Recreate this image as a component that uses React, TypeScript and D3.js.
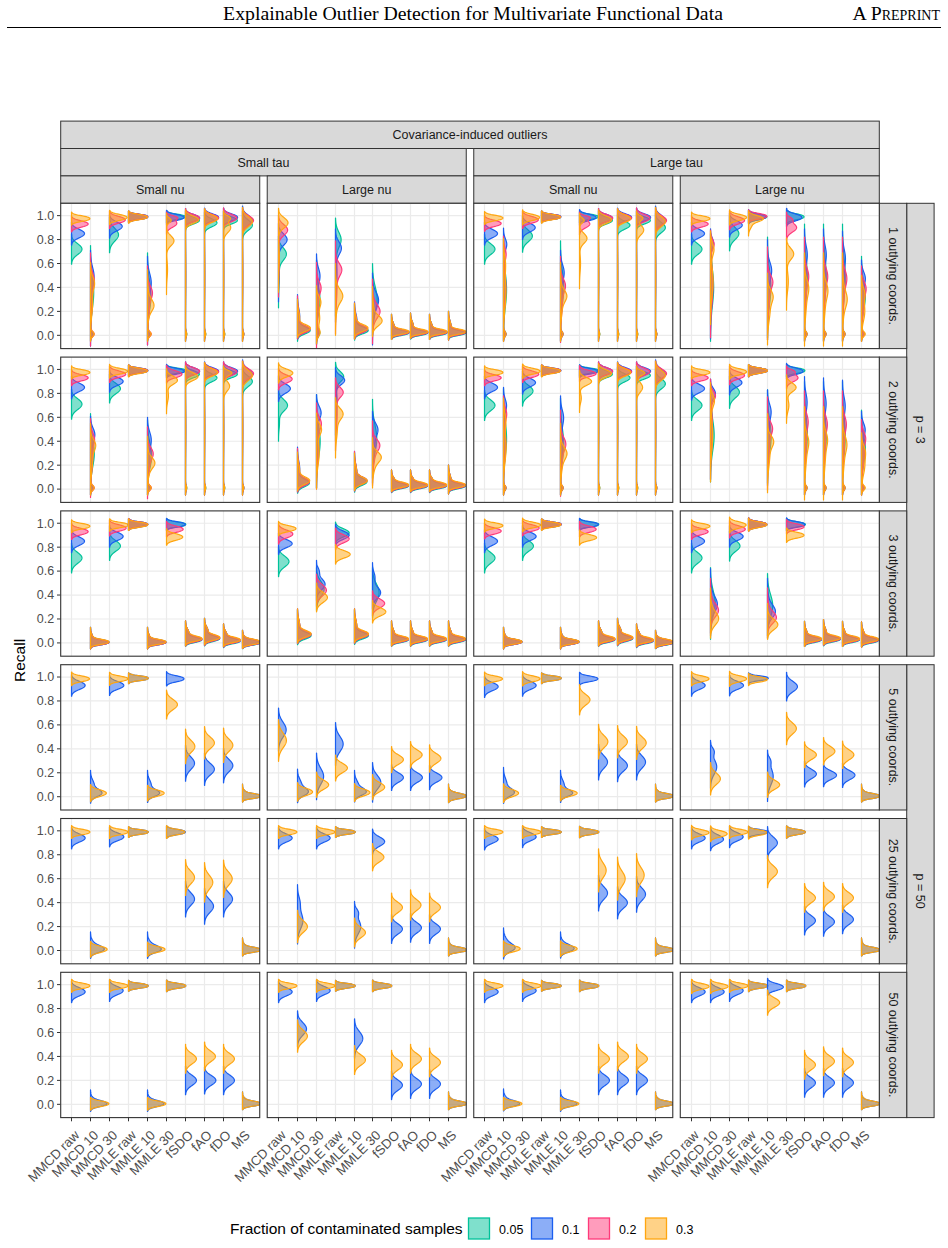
import React from "react";
import * as d3 from "d3";

// ---- categories & labels ----
const methods = ["MMCD raw", "MMCD 10", "MMCD 30", "MMLE raw", "MMLE 10", "MMLE 30", "fSDO", "fAO", "fDO", "MS"];
const fractions = ["0.05", "0.1", "0.2", "0.3"];
const fractionColors = ["#00C29A", "#1A5EF0", "#FF3A7A", "#FFA60F"];
const legendTitle = "Fraction of contaminated samples";
const scenarioLabel = "Covariance-induced outliers";
const tauLevels = ["Small tau", "Large tau"];
const nuLevels = ["Small nu", "Large nu"];
const coordLevels = ["1 outlying coords.", "2 outlying coords.", "3 outlying coords.", "5 outlying coords.", "25 outlying coords.", "50 outlying coords."];
const dimLevels = ["p = 3", "p = 50"];
const recallTicks = [0, 0.2, 0.4, 0.6, 0.8, 1.0];
const p3Fractions = [0, 1, 2, 3];
const p50Fractions = [1, 3];

// Recall distributions. Each entry = density modes [centre, spread, weight, ...] ([centre, spread] = single mode).
// Layout: panel (SmallTau/SmallNu, SmallTau/LargeNu, LargeTau/SmallNu, LargeTau/LargeNu) -> method -> fraction.
const recallCoords1 = [
  [
    [[0.72, 0.042], [0.85, 0.032], [0.93, 0.022], [0.975, 0.018]],
    [[0.36, 0.13, 0.88, 0.01, 0.02, 0.12], [0.5, 0.07, 0.45, 0.3, 0.13, 0.45, 0.01, 0.02, 0.1], [0.46, 0.06, 0.4, 0.3, 0.13, 0.45, 0.01, 0.02, 0.15], [0.44, 0.05, 0.35, 0.28, 0.11, 0.5, 0.01, 0.02, 0.15]],
    [[0.84, 0.05], [0.91, 0.033], [0.965, 0.024], [0.985, 0.02]],
    [[0.99, 0.016], [0.99, 0.016], [0.99, 0.016], [0.988, 0.017]],
    [[0.33, 0.12, 0.88, 0.01, 0.02, 0.12], [0.45, 0.07, 0.45, 0.28, 0.12, 0.45, 0.01, 0.02, 0.1], [0.36, 0.05, 0.4, 0.25, 0.11, 0.45, 0.01, 0.02, 0.15], [0.25, 0.045, 0.45, 0.25, 0.1, 0.4, 0.01, 0.02, 0.15]],
    [[0.99, 0.017], [0.985, 0.02], [0.935, 0.03, 0.7, 0.985, 0.015, 0.3], [0.79, 0.04, 0.65, 0.96, 0.02, 0.2, 0.55, 0.07, 0.15]],
    [[0.96, 0.026, 0.85, 0.5, 0.16, 0.06, 0.01, 0.02, 0.05], [0.98, 0.026, 0.88, 0.5, 0.16, 0.05, 0.01, 0.02, 0.04], [0.98, 0.026, 0.88, 0.5, 0.16, 0.05, 0.01, 0.02, 0.04], [0.965, 0.028, 0.85, 0.5, 0.16, 0.06, 0.01, 0.02, 0.05]],
    [[0.94, 0.03, 0.85, 0.5, 0.16, 0.06, 0.01, 0.02, 0.05], [0.985, 0.026, 0.88, 0.5, 0.16, 0.05, 0.01, 0.02, 0.04], [0.98, 0.026, 0.88, 0.5, 0.16, 0.05, 0.01, 0.02, 0.04], [0.975, 0.028, 0.85, 0.5, 0.16, 0.06, 0.01, 0.02, 0.05]],
    [[0.96, 0.026, 0.85, 0.5, 0.16, 0.06, 0.01, 0.02, 0.05], [0.985, 0.026, 0.88, 0.5, 0.16, 0.05, 0.01, 0.02, 0.04], [0.98, 0.028, 0.88, 0.5, 0.16, 0.05, 0.01, 0.02, 0.04], [0.9, 0.04, 0.6, 0.98, 0.02, 0.25, 0.5, 0.16, 0.06, 0.01, 0.02, 0.05]],
    [[0.92, 0.04, 0.85, 0.5, 0.16, 0.06, 0.01, 0.02, 0.05], [0.96, 0.04, 0.85, 0.5, 0.16, 0.06, 0.01, 0.02, 0.05], [0.96, 0.035, 0.85, 0.5, 0.16, 0.06, 0.01, 0.02, 0.05], [0.95, 0.04, 0.85, 0.5, 0.16, 0.06, 0.01, 0.02, 0.05]],
  ],
  [
    [[0.68, 0.05, 0.85, 0.5, 0.09, 0.15], [0.8, 0.045, 0.85, 0.58, 0.1, 0.15], [0.88, 0.042, 0.85, 0.62, 0.1, 0.15], [0.94, 0.04, 0.85, 0.66, 0.1, 0.15]],
    [[0.04, 0.026, 0.75, 0.13, 0.06, 0.25], [0.05, 0.026, 0.72, 0.16, 0.06, 0.28], [0.05, 0.026, 0.75, 0.15, 0.06, 0.25], [0.06, 0.026, 0.78, 0.15, 0.05, 0.22]],
    [[0.3, 0.11, 0.8, 0.02, 0.03, 0.2], [0.5, 0.06, 0.4, 0.28, 0.12, 0.45, 0.02, 0.03, 0.15], [0.4, 0.05, 0.4, 0.25, 0.12, 0.45, 0.02, 0.03, 0.15], [0.28, 0.045, 0.4, 0.14, 0.06, 0.4, 0.02, 0.03, 0.2]],
    [[0.8, 0.06, 0.7, 0.55, 0.13, 0.3], [0.73, 0.05, 0.6, 0.5, 0.13, 0.4], [0.55, 0.05, 0.6, 0.4, 0.13, 0.4], [0.33, 0.05, 0.6, 0.3, 0.1, 0.4]],
    [[0.04, 0.025, 0.8, 0.11, 0.05, 0.2], [0.05, 0.026, 0.75, 0.13, 0.05, 0.25], [0.05, 0.026, 0.78, 0.12, 0.05, 0.22], [0.06, 0.026, 0.8, 0.12, 0.05, 0.2]],
    [[0.3, 0.1, 1], [0.3, 0.06, 0.6, 0.22, 0.1, 0.4], [0.2, 0.05, 0.6, 0.2, 0.09, 0.4], [0.12, 0.04, 0.8, 0.2, 0.07, 0.2]],
    [[0.02, 0.017, 0.8, 0.07, 0.035, 0.2], [0.025, 0.017, 0.8, 0.07, 0.035, 0.2], [0.025, 0.017, 0.8, 0.07, 0.035, 0.2], [0.03, 0.017, 0.8, 0.07, 0.035, 0.2]],
    [[0.02, 0.017, 0.8, 0.08, 0.035, 0.2], [0.025, 0.017, 0.8, 0.08, 0.035, 0.2], [0.025, 0.017, 0.8, 0.08, 0.035, 0.2], [0.03, 0.017, 0.8, 0.08, 0.035, 0.2]],
    [[0.02, 0.017, 0.8, 0.07, 0.035, 0.2], [0.025, 0.017, 0.8, 0.07, 0.035, 0.2], [0.025, 0.017, 0.8, 0.07, 0.035, 0.2], [0.03, 0.017, 0.8, 0.07, 0.035, 0.2]],
    [[0.02, 0.017, 0.8, 0.08, 0.04, 0.2], [0.025, 0.017, 0.8, 0.08, 0.04, 0.2], [0.025, 0.017, 0.8, 0.08, 0.04, 0.2], [0.03, 0.017, 0.8, 0.08, 0.04, 0.2]],
  ],
  [
    [[0.72, 0.042], [0.85, 0.032], [0.935, 0.022], [0.98, 0.018]],
    [[0.38, 0.14, 0.9, 0.01, 0.02, 0.1], [0.76, 0.045, 0.3, 0.42, 0.14, 0.6, 0.01, 0.02, 0.1], [0.68, 0.05, 0.25, 0.4, 0.13, 0.65, 0.01, 0.02, 0.1], [0.6, 0.07, 0.25, 0.35, 0.13, 0.65, 0.01, 0.02, 0.1]],
    [[0.83, 0.045], [0.9, 0.033], [0.965, 0.024], [0.985, 0.021]],
    [[0.99, 0.016], [0.99, 0.016], [0.99, 0.016], [0.988, 0.017]],
    [[0.4, 0.13, 0.9, 0.01, 0.02, 0.1], [0.53, 0.06, 0.4, 0.33, 0.12, 0.5, 0.01, 0.02, 0.1], [0.42, 0.05, 0.4, 0.3, 0.12, 0.5, 0.01, 0.02, 0.1], [0.33, 0.045, 0.45, 0.28, 0.11, 0.45, 0.01, 0.02, 0.1]],
    [[0.99, 0.017], [0.985, 0.022], [0.93, 0.03, 0.7, 0.985, 0.015, 0.3], [0.81, 0.04, 0.65, 0.96, 0.02, 0.2, 0.6, 0.07, 0.15]],
    [[0.96, 0.026, 0.85, 0.5, 0.16, 0.06, 0.01, 0.02, 0.05], [0.98, 0.026, 0.88, 0.5, 0.16, 0.05, 0.01, 0.02, 0.04], [0.98, 0.026, 0.88, 0.5, 0.16, 0.05, 0.01, 0.02, 0.04], [0.965, 0.028, 0.85, 0.5, 0.16, 0.06, 0.01, 0.02, 0.05]],
    [[0.92, 0.03, 0.85, 0.5, 0.16, 0.06, 0.01, 0.02, 0.05], [0.985, 0.026, 0.88, 0.5, 0.16, 0.05, 0.01, 0.02, 0.04], [0.98, 0.026, 0.88, 0.5, 0.16, 0.05, 0.01, 0.02, 0.04], [0.975, 0.028, 0.85, 0.5, 0.16, 0.06, 0.01, 0.02, 0.05]],
    [[0.96, 0.026, 0.85, 0.5, 0.16, 0.06, 0.01, 0.02, 0.05], [0.985, 0.026, 0.88, 0.5, 0.16, 0.05, 0.01, 0.02, 0.04], [0.98, 0.028, 0.88, 0.5, 0.16, 0.05, 0.01, 0.02, 0.04], [0.88, 0.04, 0.6, 0.98, 0.02, 0.25, 0.5, 0.16, 0.06, 0.01, 0.02, 0.05]],
    [[0.9, 0.04, 0.85, 0.5, 0.16, 0.06, 0.01, 0.02, 0.05], [0.96, 0.04, 0.85, 0.5, 0.16, 0.06, 0.01, 0.02, 0.05], [0.96, 0.035, 0.85, 0.5, 0.16, 0.06, 0.01, 0.02, 0.05], [0.95, 0.04, 0.85, 0.5, 0.16, 0.06, 0.01, 0.02, 0.05]],
  ],
  [
    [[0.72, 0.042], [0.85, 0.032], [0.93, 0.022], [0.975, 0.018]],
    [[0.4, 0.15, 1], [0.77, 0.04, 0.25, 0.42, 0.15, 0.75], [0.76, 0.04, 0.3, 0.4, 0.14, 0.7], [0.72, 0.05, 0.35, 0.45, 0.12, 0.65]],
    [[0.85, 0.048], [0.92, 0.033], [0.96, 0.026], [0.985, 0.021]],
    [[0.99, 0.018], [0.99, 0.02], [0.995, 0.018], [0.975, 0.022, 0.8, 0.92, 0.03, 0.2]],
    [[0.4, 0.14, 1], [0.55, 0.06, 0.4, 0.38, 0.14, 0.6], [0.45, 0.05, 0.4, 0.35, 0.13, 0.6], [0.33, 0.05, 0.45, 0.22, 0.1, 0.55]],
    [[0.99, 0.02], [0.985, 0.025], [0.9, 0.035, 0.8, 0.97, 0.02, 0.2], [0.68, 0.045, 0.7, 0.45, 0.08, 0.3]],
    [[0.48, 0.15, 0.9, 0.01, 0.02, 0.1], [0.68, 0.07, 0.35, 0.42, 0.15, 0.55, 0.01, 0.02, 0.1], [0.5, 0.06, 0.35, 0.4, 0.14, 0.55, 0.01, 0.02, 0.1], [0.4, 0.06, 0.35, 0.3, 0.13, 0.55, 0.01, 0.02, 0.1]],
    [[0.48, 0.15, 0.9, 0.01, 0.02, 0.1], [0.68, 0.07, 0.35, 0.42, 0.15, 0.55, 0.01, 0.02, 0.1], [0.5, 0.06, 0.35, 0.4, 0.14, 0.55, 0.01, 0.02, 0.1], [0.38, 0.06, 0.35, 0.3, 0.13, 0.55, 0.01, 0.02, 0.1]],
    [[0.48, 0.15, 0.9, 0.01, 0.02, 0.1], [0.65, 0.07, 0.35, 0.42, 0.15, 0.55, 0.01, 0.02, 0.1], [0.48, 0.06, 0.35, 0.4, 0.14, 0.55, 0.01, 0.02, 0.1], [0.3, 0.06, 0.35, 0.3, 0.13, 0.55, 0.01, 0.02, 0.1]],
    [[0.33, 0.11, 0.9, 0.01, 0.02, 0.1], [0.48, 0.05, 0.35, 0.3, 0.1, 0.55, 0.01, 0.02, 0.1], [0.4, 0.05, 0.35, 0.28, 0.1, 0.55, 0.01, 0.02, 0.1], [0.35, 0.05, 0.3, 0.2, 0.08, 0.55, 0.01, 0.02, 0.15]],
  ],
];

const recallCoords2 = [
  [
    [[0.71, 0.042], [0.85, 0.032], [0.93, 0.022], [0.975, 0.018]],
    [[0.3, 0.11, 0.88, 0.01, 0.02, 0.12], [0.46, 0.05, 0.4, 0.28, 0.11, 0.5, 0.01, 0.02, 0.1], [0.42, 0.05, 0.35, 0.26, 0.11, 0.5, 0.01, 0.02, 0.15], [0.37, 0.045, 0.4, 0.25, 0.1, 0.45, 0.01, 0.02, 0.15]],
    [[0.84, 0.04], [0.9, 0.03], [0.96, 0.023], [0.985, 0.019]],
    [[0.99, 0.016], [0.99, 0.016], [0.99, 0.016], [0.988, 0.017]],
    [[0.28, 0.1, 0.88, 0.01, 0.02, 0.12], [0.42, 0.06, 0.4, 0.25, 0.1, 0.5, 0.01, 0.02, 0.1], [0.3, 0.045, 0.4, 0.22, 0.1, 0.45, 0.01, 0.02, 0.15], [0.22, 0.04, 0.45, 0.2, 0.08, 0.4, 0.01, 0.02, 0.15]],
    [[0.99, 0.016], [0.985, 0.019], [0.96, 0.025], [0.91, 0.032, 0.8, 0.78, 0.05, 0.2]],
    [[0.96, 0.026, 0.85, 0.5, 0.16, 0.06, 0.01, 0.02, 0.05], [0.985, 0.026, 0.88, 0.5, 0.16, 0.05, 0.01, 0.02, 0.04], [0.985, 0.026, 0.88, 0.5, 0.16, 0.05, 0.01, 0.02, 0.04], [0.94, 0.03, 0.85, 0.5, 0.16, 0.06, 0.01, 0.02, 0.05]],
    [[0.93, 0.03, 0.85, 0.5, 0.16, 0.06, 0.01, 0.02, 0.05], [0.985, 0.026, 0.88, 0.5, 0.16, 0.05, 0.01, 0.02, 0.04], [0.98, 0.026, 0.88, 0.5, 0.16, 0.05, 0.01, 0.02, 0.04], [0.975, 0.028, 0.85, 0.5, 0.16, 0.06, 0.01, 0.02, 0.05]],
    [[0.96, 0.026, 0.85, 0.5, 0.16, 0.06, 0.01, 0.02, 0.05], [0.985, 0.026, 0.88, 0.5, 0.16, 0.05, 0.01, 0.02, 0.04], [0.98, 0.028, 0.88, 0.5, 0.16, 0.05, 0.01, 0.02, 0.04], [0.86, 0.04, 0.5, 0.97, 0.02, 0.35, 0.5, 0.16, 0.06, 0.01, 0.02, 0.05]],
    [[0.9, 0.04, 0.85, 0.5, 0.16, 0.06, 0.01, 0.02, 0.05], [0.96, 0.04, 0.85, 0.5, 0.16, 0.06, 0.01, 0.02, 0.05], [0.965, 0.035, 0.85, 0.5, 0.16, 0.06, 0.01, 0.02, 0.05], [0.95, 0.04, 0.85, 0.5, 0.16, 0.06, 0.01, 0.02, 0.05]],
  ],
  [
    [[0.7, 0.045, 0.9, 0.55, 0.05, 0.1], [0.84, 0.036], [0.92, 0.03], [0.97, 0.028]],
    [[0.05, 0.028, 0.75, 0.15, 0.06, 0.25], [0.06, 0.028, 0.72, 0.17, 0.06, 0.28], [0.06, 0.028, 0.75, 0.16, 0.06, 0.25], [0.07, 0.028, 0.78, 0.16, 0.05, 0.22]],
    [[0.4, 0.13, 1], [0.64, 0.05, 0.45, 0.4, 0.13, 0.55], [0.55, 0.05, 0.45, 0.36, 0.12, 0.55], [0.5, 0.045, 0.45, 0.3, 0.1, 0.55]],
    [[0.94, 0.04, 0.7, 0.75, 0.1, 0.3], [0.91, 0.035, 0.7, 0.7, 0.1, 0.3], [0.81, 0.04, 0.65, 0.62, 0.1, 0.35], [0.63, 0.045, 0.7, 0.5, 0.08, 0.3]],
    [[0.06, 0.027, 0.75, 0.14, 0.055, 0.25], [0.07, 0.027, 0.75, 0.15, 0.055, 0.25], [0.07, 0.027, 0.75, 0.15, 0.055, 0.25], [0.07, 0.027, 0.78, 0.15, 0.05, 0.22]],
    [[0.42, 0.11, 1], [0.5, 0.05, 0.5, 0.35, 0.1, 0.5], [0.37, 0.045, 0.55, 0.3, 0.09, 0.45], [0.27, 0.04, 0.6, 0.22, 0.07, 0.4]],
    [[0.025, 0.018, 0.8, 0.07, 0.03, 0.2], [0.03, 0.018, 0.8, 0.07, 0.03, 0.2], [0.03, 0.018, 0.8, 0.07, 0.03, 0.2], [0.035, 0.018, 0.8, 0.07, 0.03, 0.2]],
    [[0.025, 0.018, 0.8, 0.07, 0.03, 0.2], [0.03, 0.018, 0.8, 0.07, 0.03, 0.2], [0.03, 0.018, 0.8, 0.07, 0.03, 0.2], [0.035, 0.018, 0.8, 0.07, 0.03, 0.2]],
    [[0.025, 0.018, 0.8, 0.07, 0.03, 0.2], [0.03, 0.018, 0.8, 0.07, 0.03, 0.2], [0.03, 0.018, 0.8, 0.07, 0.03, 0.2], [0.035, 0.018, 0.8, 0.07, 0.03, 0.2]],
    [[0.025, 0.018, 0.8, 0.08, 0.04, 0.2], [0.03, 0.018, 0.8, 0.08, 0.04, 0.2], [0.03, 0.018, 0.8, 0.08, 0.04, 0.2], [0.035, 0.018, 0.8, 0.08, 0.04, 0.2]],
  ],
  [
    [[0.7, 0.042], [0.85, 0.032], [0.93, 0.022], [0.975, 0.018]],
    [[0.42, 0.14, 0.9, 0.01, 0.02, 0.1], [0.7, 0.05, 0.3, 0.4, 0.14, 0.6, 0.01, 0.02, 0.1], [0.63, 0.05, 0.3, 0.38, 0.13, 0.6, 0.01, 0.02, 0.1], [0.58, 0.06, 0.25, 0.35, 0.12, 0.65, 0.01, 0.02, 0.1]],
    [[0.82, 0.042], [0.89, 0.032], [0.96, 0.023], [0.985, 0.02]],
    [[0.99, 0.016], [0.99, 0.016], [0.99, 0.016], [0.988, 0.017]],
    [[0.37, 0.13, 0.9, 0.01, 0.02, 0.1], [0.6, 0.06, 0.35, 0.35, 0.13, 0.55, 0.01, 0.02, 0.1], [0.38, 0.05, 0.4, 0.3, 0.12, 0.5, 0.01, 0.02, 0.1], [0.3, 0.045, 0.45, 0.25, 0.1, 0.45, 0.01, 0.02, 0.1]],
    [[0.99, 0.016], [0.985, 0.018], [0.965, 0.022], [0.9, 0.03, 0.85, 0.76, 0.04, 0.15]],
    [[0.96, 0.026, 0.85, 0.5, 0.16, 0.06, 0.01, 0.02, 0.05], [0.985, 0.026, 0.88, 0.5, 0.16, 0.05, 0.01, 0.02, 0.04], [0.985, 0.026, 0.88, 0.5, 0.16, 0.05, 0.01, 0.02, 0.04], [0.965, 0.028, 0.85, 0.5, 0.16, 0.06, 0.01, 0.02, 0.05]],
    [[0.93, 0.03, 0.85, 0.5, 0.16, 0.06, 0.01, 0.02, 0.05], [0.985, 0.026, 0.88, 0.5, 0.16, 0.05, 0.01, 0.02, 0.04], [0.98, 0.026, 0.88, 0.5, 0.16, 0.05, 0.01, 0.02, 0.04], [0.975, 0.028, 0.85, 0.5, 0.16, 0.06, 0.01, 0.02, 0.05]],
    [[0.95, 0.026, 0.85, 0.5, 0.16, 0.06, 0.01, 0.02, 0.05], [0.985, 0.026, 0.88, 0.5, 0.16, 0.05, 0.01, 0.02, 0.04], [0.98, 0.028, 0.88, 0.5, 0.16, 0.05, 0.01, 0.02, 0.04], [0.85, 0.04, 0.5, 0.97, 0.02, 0.35, 0.5, 0.16, 0.06, 0.01, 0.02, 0.05]],
    [[0.88, 0.04, 0.85, 0.5, 0.16, 0.06, 0.01, 0.02, 0.05], [0.96, 0.04, 0.85, 0.5, 0.16, 0.06, 0.01, 0.02, 0.05], [0.965, 0.035, 0.85, 0.5, 0.16, 0.06, 0.01, 0.02, 0.05], [0.95, 0.04, 0.85, 0.5, 0.16, 0.06, 0.01, 0.02, 0.05]],
  ],
  [
    [[0.7, 0.042], [0.84, 0.032], [0.93, 0.022], [0.975, 0.018]],
    [[0.45, 0.13, 1], [0.8, 0.04, 0.4, 0.5, 0.14, 0.6], [0.78, 0.04, 0.4, 0.5, 0.14, 0.6], [0.74, 0.05, 0.4, 0.45, 0.13, 0.6]],
    [[0.81, 0.045], [0.89, 0.034], [0.95, 0.026], [0.98, 0.021]],
    [[0.99, 0.017], [0.99, 0.017], [0.99, 0.017], [0.99, 0.017]],
    [[0.44, 0.13, 1], [0.65, 0.06, 0.4, 0.42, 0.13, 0.6], [0.51, 0.05, 0.4, 0.38, 0.13, 0.6], [0.4, 0.045, 0.45, 0.3, 0.11, 0.55]],
    [[0.99, 0.018], [0.985, 0.022], [0.93, 0.03, 0.8, 0.985, 0.015, 0.2], [0.85, 0.035, 0.75, 0.7, 0.05, 0.25]],
    [[0.45, 0.15, 0.9, 0.01, 0.02, 0.1], [0.73, 0.07, 0.35, 0.42, 0.15, 0.55, 0.01, 0.02, 0.1], [0.57, 0.06, 0.35, 0.4, 0.14, 0.55, 0.01, 0.02, 0.1], [0.4, 0.06, 0.35, 0.3, 0.13, 0.55, 0.01, 0.02, 0.1]],
    [[0.45, 0.15, 0.9, 0.01, 0.02, 0.1], [0.72, 0.07, 0.35, 0.42, 0.15, 0.55, 0.01, 0.02, 0.1], [0.55, 0.06, 0.35, 0.4, 0.14, 0.55, 0.01, 0.02, 0.1], [0.42, 0.06, 0.35, 0.3, 0.13, 0.55, 0.01, 0.02, 0.1]],
    [[0.45, 0.15, 0.9, 0.01, 0.02, 0.1], [0.7, 0.07, 0.35, 0.42, 0.15, 0.55, 0.01, 0.02, 0.1], [0.55, 0.06, 0.35, 0.4, 0.14, 0.55, 0.01, 0.02, 0.1], [0.38, 0.06, 0.35, 0.3, 0.13, 0.55, 0.01, 0.02, 0.1]],
    [[0.33, 0.11, 0.9, 0.01, 0.02, 0.1], [0.5, 0.05, 0.35, 0.3, 0.1, 0.55, 0.01, 0.02, 0.1], [0.43, 0.05, 0.35, 0.28, 0.1, 0.55, 0.01, 0.02, 0.1], [0.32, 0.05, 0.3, 0.2, 0.08, 0.55, 0.01, 0.02, 0.15]],
  ],
];

const recallCoords3 = [
  [
    [[0.71, 0.042], [0.85, 0.032], [0.93, 0.022], [0.975, 0.018]],
    [[0.005, 0.016, 0.85, 0.04, 0.03, 0.15], [0.005, 0.016, 0.85, 0.04, 0.03, 0.15], [0.005, 0.016, 0.85, 0.04, 0.03, 0.15], [0.008, 0.016, 0.85, 0.04, 0.03, 0.15]],
    [[0.81, 0.04], [0.89, 0.03], [0.96, 0.022], [0.985, 0.017]],
    [[0.99, 0.016], [0.99, 0.016], [0.99, 0.016], [0.988, 0.016]],
    [[0.005, 0.016, 0.85, 0.04, 0.03, 0.15], [0.005, 0.016, 0.85, 0.04, 0.03, 0.15], [0.005, 0.016, 0.85, 0.04, 0.03, 0.15], [0.008, 0.016, 0.85, 0.04, 0.03, 0.15]],
    [[0.99, 0.016], [0.99, 0.017], [0.95, 0.022], [0.885, 0.023]],
    [[0.025, 0.018, 0.75, 0.08, 0.035, 0.25], [0.03, 0.018, 0.75, 0.08, 0.035, 0.25], [0.03, 0.018, 0.75, 0.08, 0.035, 0.25], [0.035, 0.018, 0.75, 0.08, 0.035, 0.25]],
    [[0.035, 0.02, 0.75, 0.1, 0.035, 0.25], [0.04, 0.02, 0.75, 0.1, 0.035, 0.25], [0.04, 0.02, 0.75, 0.1, 0.035, 0.25], [0.045, 0.02, 0.75, 0.1, 0.035, 0.25]],
    [[0.015, 0.018, 0.8, 0.07, 0.03, 0.2], [0.02, 0.018, 0.8, 0.07, 0.03, 0.2], [0.02, 0.018, 0.8, 0.07, 0.03, 0.2], [0.025, 0.018, 0.8, 0.07, 0.03, 0.2]],
    [[0.003, 0.017, 0.85, 0.03, 0.025, 0.15], [0.005, 0.017, 0.85, 0.03, 0.025, 0.15], [0.005, 0.017, 0.85, 0.03, 0.025, 0.15], [0.008, 0.017, 0.85, 0.03, 0.025, 0.15]],
  ],
  [
    [[0.68, 0.042], [0.83, 0.03], [0.91, 0.028], [0.955, 0.02]],
    [[0.06, 0.025, 0.8, 0.14, 0.045, 0.2], [0.07, 0.025, 0.8, 0.15, 0.045, 0.2], [0.07, 0.025, 0.8, 0.15, 0.045, 0.2], [0.075, 0.025, 0.8, 0.15, 0.045, 0.2]],
    [[0.45, 0.06], [0.49, 0.045, 0.85, 0.6, 0.03, 0.15], [0.44, 0.045], [0.38, 0.04]],
    [[0.92, 0.03], [0.9, 0.03], [0.87, 0.03], [0.74, 0.027]],
    [[0.06, 0.024, 0.8, 0.14, 0.045, 0.2], [0.07, 0.024, 0.8, 0.15, 0.045, 0.2], [0.07, 0.024, 0.8, 0.15, 0.045, 0.2], [0.075, 0.024, 0.8, 0.15, 0.045, 0.2]],
    [[0.42, 0.07], [0.42, 0.045, 0.8, 0.55, 0.04, 0.2], [0.33, 0.035], [0.26, 0.031]],
    [[0.025, 0.018, 0.8, 0.08, 0.035, 0.2], [0.03, 0.018, 0.8, 0.08, 0.035, 0.2], [0.03, 0.018, 0.8, 0.08, 0.035, 0.2], [0.035, 0.018, 0.8, 0.08, 0.035, 0.2]],
    [[0.025, 0.018, 0.8, 0.08, 0.035, 0.2], [0.03, 0.018, 0.8, 0.08, 0.035, 0.2], [0.03, 0.018, 0.8, 0.08, 0.035, 0.2], [0.035, 0.018, 0.8, 0.08, 0.035, 0.2]],
    [[0.025, 0.018, 0.8, 0.08, 0.035, 0.2], [0.03, 0.018, 0.8, 0.08, 0.035, 0.2], [0.03, 0.018, 0.8, 0.08, 0.035, 0.2], [0.035, 0.018, 0.8, 0.08, 0.035, 0.2]],
    [[0.025, 0.018, 0.8, 0.08, 0.035, 0.2], [0.03, 0.018, 0.8, 0.08, 0.035, 0.2], [0.03, 0.018, 0.8, 0.08, 0.035, 0.2], [0.035, 0.018, 0.8, 0.08, 0.035, 0.2]],
  ],
  [
    [[0.71, 0.042], [0.85, 0.032], [0.935, 0.022], [0.98, 0.018]],
    [[0.008, 0.016, 0.85, 0.04, 0.03, 0.15], [0.008, 0.016, 0.85, 0.04, 0.03, 0.15], [0.008, 0.016, 0.85, 0.04, 0.03, 0.15], [0.01, 0.016, 0.85, 0.04, 0.03, 0.15]],
    [[0.81, 0.04], [0.89, 0.03], [0.96, 0.022], [0.985, 0.019]],
    [[0.99, 0.015], [0.99, 0.015], [0.99, 0.015], [0.988, 0.016]],
    [[0.008, 0.016, 0.85, 0.04, 0.03, 0.15], [0.008, 0.016, 0.85, 0.04, 0.03, 0.15], [0.008, 0.016, 0.85, 0.04, 0.03, 0.15], [0.01, 0.016, 0.85, 0.04, 0.03, 0.15]],
    [[0.99, 0.016], [0.99, 0.017], [0.95, 0.022], [0.88, 0.021]],
    [[0.025, 0.018, 0.75, 0.08, 0.035, 0.25], [0.03, 0.018, 0.75, 0.08, 0.035, 0.25], [0.03, 0.018, 0.75, 0.08, 0.035, 0.25], [0.035, 0.018, 0.75, 0.08, 0.035, 0.25]],
    [[0.035, 0.02, 0.75, 0.1, 0.035, 0.25], [0.04, 0.02, 0.75, 0.1, 0.035, 0.25], [0.04, 0.02, 0.75, 0.1, 0.035, 0.25], [0.045, 0.02, 0.75, 0.1, 0.035, 0.25]],
    [[0.015, 0.018, 0.8, 0.07, 0.03, 0.2], [0.02, 0.018, 0.8, 0.07, 0.03, 0.2], [0.02, 0.018, 0.8, 0.07, 0.03, 0.2], [0.025, 0.018, 0.8, 0.07, 0.03, 0.2]],
    [[0.003, 0.017, 0.85, 0.03, 0.025, 0.15], [0.005, 0.017, 0.85, 0.03, 0.025, 0.15], [0.005, 0.017, 0.85, 0.03, 0.025, 0.15], [0.008, 0.017, 0.85, 0.03, 0.025, 0.15]],
  ],
  [
    [[0.71, 0.042], [0.85, 0.032], [0.93, 0.022], [0.975, 0.018]],
    [[0.33, 0.1, 1], [0.32, 0.06, 0.7, 0.35, 0.09, 0.3], [0.27, 0.05, 0.7, 0.3, 0.08, 0.3], [0.2, 0.05, 0.75, 0.25, 0.07, 0.25]],
    [[0.81, 0.042], [0.89, 0.03], [0.95, 0.024], [0.985, 0.022]],
    [[0.99, 0.018], [0.99, 0.018], [0.99, 0.018], [0.988, 0.018]],
    [[0.31, 0.09, 1], [0.26, 0.05, 0.7, 0.3, 0.08, 0.3], [0.21, 0.045, 0.75, 0.25, 0.07, 0.25], [0.15, 0.04, 0.8, 0.18, 0.05, 0.2]],
    [[0.99, 0.017], [0.99, 0.018], [0.97, 0.02], [0.9, 0.02]],
    [[0.025, 0.018, 0.8, 0.075, 0.035, 0.2], [0.03, 0.018, 0.8, 0.075, 0.035, 0.2], [0.03, 0.018, 0.8, 0.075, 0.035, 0.2], [0.035, 0.018, 0.8, 0.075, 0.035, 0.2]],
    [[0.03, 0.018, 0.8, 0.09, 0.035, 0.2], [0.035, 0.018, 0.8, 0.09, 0.035, 0.2], [0.035, 0.018, 0.8, 0.09, 0.035, 0.2], [0.04, 0.018, 0.8, 0.09, 0.035, 0.2]],
    [[0.025, 0.018, 0.8, 0.075, 0.035, 0.2], [0.03, 0.018, 0.8, 0.075, 0.035, 0.2], [0.03, 0.018, 0.8, 0.075, 0.035, 0.2], [0.035, 0.018, 0.8, 0.075, 0.035, 0.2]],
    [[0.02, 0.018, 0.8, 0.07, 0.035, 0.2], [0.025, 0.018, 0.8, 0.07, 0.035, 0.2], [0.025, 0.018, 0.8, 0.07, 0.035, 0.2], [0.03, 0.018, 0.8, 0.07, 0.035, 0.2]],
  ],
];

// p = 50 rows: [fraction 0.1, fraction 0.3] per method
const recallCoords5 = [
  [
    [[0.93, 0.03], [0.985, 0.019]],
    [[0.03, 0.028, 0.7, 0.1, 0.04, 0.3], [0.03, 0.024]],
    [[0.93, 0.028], [0.985, 0.018]],
    [[0.99, 0.015], [0.99, 0.015]],
    [[0.03, 0.026, 0.7, 0.1, 0.04, 0.3], [0.03, 0.022]],
    [[0.985, 0.02], [0.77, 0.04]],
    [[0.28, 0.05], [0.42, 0.048]],
    [[0.23, 0.045], [0.45, 0.045]],
    [[0.26, 0.048], [0.43, 0.048]],
    [[0.005, 0.015, 0.85, 0.03, 0.025, 0.15], [0.005, 0.015, 0.85, 0.03, 0.025, 0.15]],
  ],
  [
    [[0.56, 0.06], [0.47, 0.058]],
    [[0.04, 0.03, 0.7, 0.11, 0.04, 0.3], [0.04, 0.026]],
    [[0.17, 0.065], [0.1, 0.035]],
    [[0.44, 0.06], [0.24, 0.036]],
    [[0.04, 0.028, 0.7, 0.1, 0.04, 0.3], [0.035, 0.025]],
    [[0.12, 0.055], [0.08, 0.035]],
    [[0.16, 0.036], [0.31, 0.036]],
    [[0.16, 0.036], [0.35, 0.037]],
    [[0.16, 0.034], [0.32, 0.038]],
    [[0.005, 0.018, 0.85, 0.03, 0.025, 0.15], [0.005, 0.018, 0.85, 0.03, 0.025, 0.15]],
  ],
  [
    [[0.92, 0.03], [0.985, 0.019]],
    [[0.035, 0.03, 0.7, 0.11, 0.045, 0.3], [0.03, 0.026]],
    [[0.93, 0.03], [0.985, 0.02]],
    [[0.99, 0.015], [0.99, 0.015]],
    [[0.03, 0.026, 0.7, 0.1, 0.04, 0.3], [0.03, 0.022]],
    [[0.985, 0.018], [0.81, 0.042]],
    [[0.29, 0.05], [0.46, 0.048]],
    [[0.26, 0.045], [0.46, 0.045]],
    [[0.29, 0.05], [0.45, 0.046]],
    [[0.005, 0.016, 0.85, 0.03, 0.025, 0.15], [0.005, 0.016, 0.85, 0.03, 0.025, 0.15]],
  ],
  [
    [[0.93, 0.03], [0.985, 0.02]],
    [[0.25, 0.06, 0.8, 0.38, 0.03, 0.2], [0.15, 0.045]],
    [[0.93, 0.029], [0.985, 0.021]],
    [[0.99, 0.015], [0.98, 0.017]],
    [[0.17, 0.07, 0.85, 0.3, 0.03, 0.15], [0.1, 0.035]],
    [[0.92, 0.04], [0.57, 0.045]],
    [[0.19, 0.036], [0.35, 0.036]],
    [[0.18, 0.032], [0.38, 0.038]],
    [[0.18, 0.034], [0.35, 0.038]],
    [[0.005, 0.016, 0.85, 0.03, 0.025, 0.15], [0.005, 0.016, 0.85, 0.03, 0.025, 0.15]],
  ],
];

const recallCoords25 = [
  [
    [[0.94, 0.03], [0.99, 0.018]],
    [[0.01, 0.025, 0.75, 0.05, 0.035, 0.25], [0.01, 0.022]],
    [[0.95, 0.028], [0.99, 0.018]],
    [[0.99, 0.015], [0.99, 0.015]],
    [[0.01, 0.025, 0.75, 0.05, 0.035, 0.25], [0.01, 0.02]],
    [[0.99, 0.017], [0.99, 0.018]],
    [[0.43, 0.05], [0.61, 0.05]],
    [[0.37, 0.05], [0.57, 0.055]],
    [[0.43, 0.05], [0.6, 0.052]],
    [[0.005, 0.016, 0.85, 0.03, 0.025, 0.15], [0.005, 0.016, 0.85, 0.03, 0.025, 0.15]],
  ],
  [
    [[0.94, 0.03], [0.99, 0.018]],
    [[0.25, 0.065, 0.75, 0.4, 0.05, 0.25], [0.2, 0.045]],
    [[0.94, 0.03], [0.99, 0.018]],
    [[0.99, 0.015], [0.99, 0.015]],
    [[0.2, 0.06, 0.8, 0.32, 0.03, 0.2], [0.15, 0.04]],
    [[0.91, 0.035], [0.78, 0.038]],
    [[0.18, 0.04], [0.36, 0.04]],
    [[0.19, 0.04], [0.38, 0.042]],
    [[0.18, 0.04], [0.36, 0.04]],
    [[0.005, 0.016, 0.85, 0.03, 0.025, 0.15], [0.005, 0.016, 0.85, 0.03, 0.025, 0.15]],
  ],
  [
    [[0.93, 0.03], [0.99, 0.018]],
    [[0.02, 0.03, 0.7, 0.07, 0.04, 0.3], [0.015, 0.022]],
    [[0.95, 0.03], [0.99, 0.018]],
    [[0.99, 0.015], [0.99, 0.015]],
    [[0.015, 0.026, 0.75, 0.05, 0.035, 0.25], [0.015, 0.022]],
    [[0.99, 0.016], [0.99, 0.016]],
    [[0.48, 0.05], [0.67, 0.06]],
    [[0.4, 0.045], [0.6, 0.06]],
    [[0.47, 0.05], [0.63, 0.06]],
    [[0.005, 0.016, 0.85, 0.03, 0.025, 0.15], [0.005, 0.016, 0.85, 0.03, 0.025, 0.15]],
  ],
  [
    [[0.94, 0.03], [0.985, 0.02]],
    [[0.93, 0.032], [0.975, 0.022]],
    [[0.95, 0.03], [0.99, 0.018]],
    [[0.99, 0.016], [0.985, 0.018]],
    [[0.9, 0.045], [0.66, 0.045]],
    [[0.99, 0.017], [0.99, 0.017]],
    [[0.25, 0.04], [0.44, 0.04]],
    [[0.24, 0.04], [0.45, 0.04]],
    [[0.26, 0.04], [0.44, 0.04]],
    [[0.005, 0.016, 0.85, 0.03, 0.025, 0.15], [0.005, 0.016, 0.85, 0.03, 0.025, 0.15]],
  ],
];

const recallCoords50 = [
  [
    [[0.94, 0.03], [0.99, 0.018]],
    [[0.005, 0.02, 0.8, 0.03, 0.03, 0.2], [0.005, 0.018]],
    [[0.95, 0.03], [0.99, 0.018]],
    [[0.99, 0.015], [0.99, 0.015]],
    [[0.005, 0.02, 0.8, 0.03, 0.03, 0.2], [0.005, 0.018]],
    [[0.99, 0.016], [0.99, 0.016]],
    [[0.2, 0.04], [0.38, 0.04]],
    [[0.2, 0.038], [0.4, 0.04]],
    [[0.2, 0.04], [0.38, 0.04]],
    [[0.005, 0.016, 0.85, 0.03, 0.025, 0.15], [0.005, 0.016, 0.85, 0.03, 0.025, 0.15]],
  ],
  [
    [[0.94, 0.03], [0.99, 0.018]],
    [[0.63, 0.05], [0.57, 0.045]],
    [[0.95, 0.03], [0.99, 0.018]],
    [[0.99, 0.015], [0.99, 0.015]],
    [[0.55, 0.055], [0.37, 0.04]],
    [[0.99, 0.016], [0.99, 0.016]],
    [[0.16, 0.04], [0.33, 0.04]],
    [[0.17, 0.04], [0.38, 0.04]],
    [[0.17, 0.04], [0.35, 0.04]],
    [[0.005, 0.016, 0.85, 0.03, 0.025, 0.15], [0.005, 0.016, 0.85, 0.03, 0.025, 0.15]],
  ],
  [
    [[0.94, 0.03], [0.99, 0.018]],
    [[0.005, 0.02, 0.8, 0.04, 0.03, 0.2], [0.005, 0.018]],
    [[0.95, 0.03], [0.99, 0.018]],
    [[0.99, 0.015], [0.99, 0.015]],
    [[0.005, 0.02, 0.8, 0.03, 0.03, 0.2], [0.005, 0.018]],
    [[0.99, 0.016], [0.99, 0.016]],
    [[0.2, 0.04], [0.38, 0.04]],
    [[0.2, 0.04], [0.4, 0.04]],
    [[0.2, 0.04], [0.38, 0.04]],
    [[0.005, 0.016, 0.85, 0.03, 0.025, 0.15], [0.005, 0.016, 0.85, 0.03, 0.025, 0.15]],
  ],
  [
    [[0.94, 0.03], [0.985, 0.02]],
    [[0.94, 0.03], [0.985, 0.02]],
    [[0.95, 0.03], [0.99, 0.018]],
    [[0.99, 0.016], [0.99, 0.016]],
    [[0.98, 0.024], [0.85, 0.035]],
    [[0.99, 0.016], [0.99, 0.016]],
    [[0.18, 0.04], [0.33, 0.04]],
    [[0.18, 0.04], [0.36, 0.04]],
    [[0.18, 0.04], [0.35, 0.04]],
    [[0.005, 0.016, 0.85, 0.03, 0.025, 0.15], [0.005, 0.016, 0.85, 0.03, 0.025, 0.15]],
  ],
];

const facetRows = [
  { label: coordLevels[0], dim: 0, panels: recallCoords1, shown: p3Fractions },
  { label: coordLevels[1], dim: 0, panels: recallCoords2, shown: p3Fractions },
  { label: coordLevels[2], dim: 0, panels: recallCoords3, shown: p3Fractions },
  { label: coordLevels[3], dim: 1, panels: recallCoords5, shown: p50Fractions },
  { label: coordLevels[4], dim: 1, panels: recallCoords25, shown: p50Fractions },
  { label: coordLevels[5], dim: 1, panels: recallCoords50, shown: p50Fractions },
];

// ---- geometry ----
const plotLeft = 60.7;
const plotRight = 879.3;
const colGap = 7.5;
const panelW = (plotRight - plotLeft - 3 * colGap) / 4;
const firstRowTop = 203.3;
const rowH = 145.3;
const rowStep = 153.8;
const stripH = 27.4;
const sideStripW = 27.4;
const yDomain = [-0.111, 1.103];
const maxHalfWidth = 22;

const sans = "'Liberation Sans', Arial, Helvetica, sans-serif";
const serif = "'Liberation Serif', 'Times New Roman', serif";
const stripFill = "#D9D9D9";
const stripStroke = "#333333";
const gridColor = "#EBEBEB";

function modesOf(spec: number[]): number[][] {
  if (spec.length === 2) return [[spec[0], spec[1], 1]];
  const out: number[][] = [];
  for (let i = 0; i + 2 < spec.length; i += 3) out.push([spec[i], spec[i + 1], spec[i + 2]]);
  return out;
}

function densityCurve(spec: number[]): [number, number][] {
  const modes = modesOf(spec);
  const total = d3.sum(modes, (m) => m[2]);
  const lo = d3.min(modes, (m) => m[0] - 3 * m[1]) as number;
  const hi = d3.max(modes, (m) => m[0] + 3 * m[1]) as number;
  const n = Math.max(40, Math.ceil((hi - lo) / 0.003));
  return d3.range(n + 1).map((i) => {
    const v = lo + ((hi - lo) * i) / n;
    const dens = d3.sum(modes, ([c, s, w]) => ((w / total) * Math.exp(-0.5 * ((v - c) / s) ** 2)) / (s * Math.sqrt(2 * Math.PI)));
    return [v, dens];
  });
}

export default function App() {
  const cols = [0, 1, 2, 3];
  const panelX = (c: number) => plotLeft + c * (panelW + colGap);
  const rowTop = (r: number) => firstRowTop + r * rowStep;
  const widthOf = (dens: number) => maxHalfWidth * Math.tanh((1.2 * dens) / maxHalfWidth);
  // half-violin baselines sit on pixel centres so the thin outlines stay crisp
  const snap = (v: number) => Math.round(v - 0.5) + 0.5;

  const plotBottom = rowTop(5) + rowH;

  return (
    <svg
      width={948}
      height={1248}
      viewBox="0 0 948 1248"
      style={{ position: "absolute", left: 0, top: 0, background: "#fff" }}
      fontFamily={sans}
    >
      <rect x={0} y={0} width={948} height={1248} fill="#fff" />
      {/* running header */}
      <text x={473} y={19.5} textAnchor="middle" fontFamily={serif} fontSize={19.8} fill="#000">
        Explainable Outlier Detection for Multivariate Functional Data
      </text>
      <text x={940} y={19.5} textAnchor="end" fontFamily={serif} fontSize={19.8} fill="#000" style={{ fontVariant: "small-caps" }}>
        A Preprint
      </text>
      <line x1={7} x2={941} y1={27.5} y2={27.5} stroke="#000" strokeWidth={1} />

      {/* top strips */}
      <rect x={plotLeft} y={firstRowTop - 3 * stripH} width={plotRight - plotLeft} height={stripH} fill={stripFill} stroke={stripStroke} strokeWidth={1} />
      <text x={(plotLeft + plotRight) / 2} y={firstRowTop - 2.5 * stripH} dy="0.35em" textAnchor="middle" fontSize={12.5} fill="#1A1A1A">
        {scenarioLabel}
      </text>
      {tauLevels.map((t, ti) => {
        const x0 = panelX(ti * 2);
        const x1 = panelX(ti * 2 + 1) + panelW;
        return (
          <g key={t}>
            <rect x={x0} y={firstRowTop - 2 * stripH} width={x1 - x0} height={stripH} fill={stripFill} stroke={stripStroke} strokeWidth={1} />
            <text x={(x0 + x1) / 2} y={firstRowTop - 1.5 * stripH} dy="0.35em" textAnchor="middle" fontSize={12.5} fill="#1A1A1A">
              {t}
            </text>
          </g>
        );
      })}
      {cols.map((c) => (
        <g key={"nu" + c}>
          <rect x={panelX(c)} y={firstRowTop - stripH} width={panelW} height={stripH} fill={stripFill} stroke={stripStroke} strokeWidth={1} />
          <text x={panelX(c) + panelW / 2} y={firstRowTop - 0.5 * stripH} dy="0.35em" textAnchor="middle" fontSize={12.5} fill="#1A1A1A">
            {nuLevels[c % 2]}
          </text>
        </g>
      ))}

      {/* dimension strips */}
      {dimLevels.map((lab, di) => {
        const y0 = rowTop(di * 3);
        const y1 = rowTop(di * 3 + 2) + rowH;
        const x0 = plotRight + sideStripW;
        return (
          <g key={lab}>
            <rect x={x0} y={y0} width={sideStripW} height={y1 - y0} fill={stripFill} stroke={stripStroke} strokeWidth={1} />
            <text transform={`translate(${x0 + sideStripW / 2},${(y0 + y1) / 2}) rotate(90)`} dy="0.35em" textAnchor="middle" fontSize={12.5} fill="#1A1A1A">
              {lab}
            </text>
          </g>
        );
      })}

      <defs>
        {facetRows.map((row, r) =>
          cols.map((c) => (
            <clipPath id={`clip-${r}-${c}`} key={`clip-${r}-${c}`}>
              <rect x={panelX(c)} y={rowTop(r)} width={panelW} height={rowH} />
            </clipPath>
          ))
        )}
      </defs>

      {facetRows.map((row, r) => {
        const top = rowTop(r);
        const y = d3.scaleLinear().domain(yDomain).range([top + rowH, top]);
        return (
          <g key={row.label}>
            {/* side strip */}
            <rect x={plotRight} y={top} width={sideStripW} height={rowH} fill={stripFill} stroke={stripStroke} strokeWidth={1} />
            <text transform={`translate(${plotRight + sideStripW / 2},${top + rowH / 2}) rotate(90)`} dy="0.35em" textAnchor="middle" fontSize={12.5} fill="#1A1A1A">
              {row.label}
            </text>

            {/* y axis */}
            {recallTicks.map((t) => (
              <g key={t}>
                <line x1={plotLeft - 3.7} x2={plotLeft} y1={y(t)} y2={y(t)} stroke="#333" strokeWidth={1} />
                <text x={plotLeft - 6.5} y={y(t)} dy="0.35em" textAnchor="end" fontSize={12.5} fill="#4D4D4D">
                  {d3.format(".1f")(t)}
                </text>
              </g>
            ))}

            {cols.map((c) => {
              const left = panelX(c);
              const x = d3.scaleLinear().domain([0.42, 10.92]).range([left, left + panelW]);
              const step = x(2) - x(1);
              const area = d3
                .area<[number, number]>()
                .y((p) => y(p[0]))
                .x0(0)
                .x1((p) => widthOf(p[1]) * (step / 18.95));
              const panelSpecs = row.panels[c];
              return (
                <g key={c}>
                  <rect x={left} y={top} width={panelW} height={rowH} fill="#fff" />
                  {recallTicks.map((t) => (
                    <line key={"h" + t} x1={left} x2={left + panelW} y1={y(t)} y2={y(t)} stroke={gridColor} strokeWidth={1.2} />
                  ))}
                  {methods.map((m, mi) => (
                    <line key={"v" + m} x1={snap(x(mi + 1))} x2={snap(x(mi + 1))} y1={top} y2={top + rowH} stroke={gridColor} strokeWidth={1.2} />
                  ))}
                  <g clipPath={`url(#clip-${r}-${c})`}>
                    {methods.map((m, mi) => (
                      <g key={m} transform={`translate(${snap(x(mi + 1))},0)`}>
                        {row.shown.map((fi, k) => {
                          const spec = panelSpecs[mi][k];
                          const curve = densityCurve(spec);
                          return (
                            <path
                              key={fi}
                              d={area(curve) || ""}
                              fill={fractionColors[fi]}
                              fillOpacity={0.5}
                              stroke={fractionColors[fi]}
                              strokeWidth={1.2}
                              strokeLinejoin="round"
                            />
                          );
                        })}
                      </g>
                    ))}
                  </g>
                  <rect x={left} y={top} width={panelW} height={rowH} fill="none" stroke="#333" strokeWidth={1.1} />
                </g>
              );
            })}
          </g>
        );
      })}

      {/* x axis */}
      {cols.map((c) => {
        const left = panelX(c);
        const x = d3.scaleLinear().domain([0.42, 10.92]).range([left, left + panelW]);
        return (
          <g key={"xa" + c}>
            {methods.map((m, mi) => (
              <g key={m}>
                <line x1={snap(x(mi + 1))} x2={snap(x(mi + 1))} y1={plotBottom} y2={plotBottom + 3.7} stroke="#333" strokeWidth={1} />
                <text transform={`translate(${x(mi + 1) + 8.5},${plotBottom + 18.5}) rotate(-45)`} textAnchor="end" fontSize={13.2} fill="#4D4D4D">
                  {m}
                </text>
              </g>
            ))}
          </g>
        );
      })}

      {/* y title */}
      <text transform={`translate(20,${(firstRowTop + plotBottom) / 2}) rotate(-90)`} textAnchor="middle" dy="0.35em" fontSize={15.5} fill="#000">
        Recall
      </text>

      {/* legend */}
      <text x={230} y={1234} fontSize={15.5} fill="#000">
        {legendTitle}
      </text>
      {fractions.map((f, i) => {
        const kx = [468.5, 531.5, 588.5, 645.5][i];
        return (
          <g key={f}>
            <rect x={kx} y={1218} width={21} height={21} fill={fractionColors[i]} fillOpacity={0.5} stroke={fractionColors[i]} strokeWidth={1.3} />
            <text x={kx + 30.5} y={1233.5} fontSize={12.5} fill="#000">
              {f}
            </text>
          </g>
        );
      })}
    </svg>
  );
}
